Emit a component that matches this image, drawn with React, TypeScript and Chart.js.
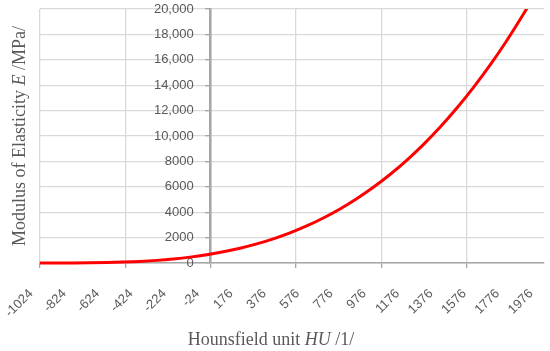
import React, { useEffect, useRef } from 'react';
import { Chart, registerables } from 'chart.js';

Chart.register(...registerables);

// Hounsfield unit sample positions and the modulus values
const huValues = [
  -1024, -924, -824, -724, -624, -524, -424, -324, -224, -124,
  -24, 76, 176, 276, 376, 476, 576, 676, 776, 876,
  976, 1076, 1176, 1276, 1376, 1476, 1576, 1676, 1776, 1876,
  1976,
];
const modulusValues = [
  0, 0, 4, 14, 35, 71, 126, 207, 318, 463,
  649, 880, 1163, 1502, 1905, 2374, 2920, 3545, 4257, 5061,
  5962, 6969, 8087, 9324, 10688, 12180, 13804, 15573, 17500, 19580,
  21830,
];

// Axis tick labels / grid positions
const xLabelValues = [-1024, -824, -624, -424, -224, -24, 176, 376, 576, 776, 976, 1176, 1376, 1576, 1776, 1976];
const xGridValues = [-1024, -512, 0, 512, 1024, 1536];
const xMin = -1024;
const xMax = 2000;
const yMin = 0;
const yMax = 20000;
const yStep = 2000;

const xTitleParts = [
  { text: 'Hounsfield unit ', italic: false },
  { text: 'HU', italic: true },
  { text: ' /1/', italic: false },
];
const yTitleParts = [
  { text: 'Modulus of Elasticity ', italic: false },
  { text: 'E', italic: true },
  { text: ' /MPa/', italic: false },
];

const TEXT_COLOR = '#595959';
const SERIF = '"Liberation Serif", "Times New Roman", serif';
const SANS = '"Liberation Sans", Arial, sans-serif';
const Y_LABEL_GAP = 17;

function drawParts(ctx: CanvasRenderingContext2D, parts: { text: string; italic: boolean }[], cx: number, baseline: number) {
  const fontFor = (it: boolean) => `${it ? 'italic ' : ''}18px ${SERIF}`;
  let total = 0;
  const widths = parts.map((p) => {
    ctx.font = fontFor(p.italic);
    const w = ctx.measureText(p.text).width;
    total += w;
    return w;
  });
  let x = cx - total / 2;
  parts.forEach((p, i) => {
    ctx.font = fontFor(p.italic);
    ctx.fillText(p.text, x, baseline);
    x += widths[i];
  });
}

const titlePlugin = {
  id: 'axisTitles',
  afterDraw(chart: any) {
    const ctx: CanvasRenderingContext2D = chart.ctx;
    const area = chart.chartArea;
    ctx.save();
    ctx.fillStyle = TEXT_COLOR;
    ctx.textAlign = 'left';
    ctx.textBaseline = 'alphabetic';
    drawParts(ctx, xTitleParts, 271, 345);
    ctx.translate(24.5, (area.top + area.bottom) / 2);
    ctx.rotate(-Math.PI / 2);
    drawParts(ctx, yTitleParts, 0, 0);
    ctx.restore();
  },
};

export default function App() {
  const canvasRef = useRef<HTMLCanvasElement | null>(null);

  useEffect(() => {
    if (!canvasRef.current) return;
    const allTicks = Array.from(new Set([...xLabelValues, ...xGridValues])).sort((a, b) => a - b);
    const chart = new Chart(canvasRef.current, {
      type: 'line',
      data: {
        datasets: [
          {
            data: huValues.map((x, i) => ({ x, y: modulusValues[i] })),
            borderColor: '#ff0000',
            borderWidth: 3,
            pointRadius: 0,
            fill: false,
            cubicInterpolationMode: 'monotone',
            clip: { left: 0, top: 0, right: 0, bottom: 4 } as any,
          },
        ],
      },
      options: {
        animation: false,
        responsive: true,
        maintainAspectRatio: false,
        layout: { padding: { top: 9, left: 40, right: 6, bottom: 0 } },
        plugins: {
          legend: { display: false },
          tooltip: { enabled: false },
        },
        scales: {
          x: {
            type: 'linear',
            min: xMin,
            max: xMax,
            afterBuildTicks: (scale: any) => {
              scale.ticks = allTicks.map((v) => ({ value: v }));
            },
            afterFit: (scale: any) => {
              scale.height = 88;
              scale.paddingLeft = 0;
              scale.paddingRight = 0;
            },
            ticks: {
              autoSkip: false,
              minRotation: 45,
              maxRotation: 45,
              padding: 18,
              labelOffset: -9,
              color: TEXT_COLOR,
              font: { family: SANS, size: 13 },
              callback: (value: any) => (xLabelValues.includes(Number(value)) ? String(value) : ''),
            },
            grid: {
              color: (ctx: any) => (xGridValues.includes(ctx.tick?.value) ? '#d9d9d9' : 'rgba(0,0,0,0)'),
              tickColor: (ctx: any) => (xGridValues.includes(ctx.tick?.value) ? '#a6a6a6' : 'rgba(0,0,0,0)'),
              lineWidth: 1.3,
              tickLength: 5,
              drawTicks: true,
            },
            border: { color: '#a6a6a6', width: 1.5 },
          },
          y: {
            type: 'linear',
            position: { x: 0 } as any,
            min: yMin,
            max: yMax,
            afterFit: (scale: any) => {
              scale.width = 0;
              scale.paddingTop = 0;
              scale.paddingBottom = 0;
            },
            afterUpdate: (scale: any) => {
              if (scale.__shiftPatched) return;
              const orig = scale._computeLabelItems.bind(scale);
              scale._computeLabelItems = (ca: any) =>
                orig(ca).map((item: any) => ({
                  ...item,
                  options: {
                    ...item.options,
                    translation: [item.options.translation[0] - Y_LABEL_GAP, item.options.translation[1]],
                  },
                }));
              scale.__shiftPatched = true;
              scale._labelItems = null;
            },
            ticks: {
              stepSize: yStep,
              padding: 13,
              color: TEXT_COLOR,
              font: { family: SANS, size: 13 },
              callback: (value: any) => {
                const v = Number(value);
                return v >= 10000 ? v.toLocaleString('en-US') : String(v);
              },
            },
            grid: {
              color: '#d9d9d9',
              lineWidth: 1.3,
              tickLength: 4,
              tickColor: '#a6a6a6',
            },
            border: { color: '#a6a6a6', width: 2.5 },
          },
        },
      } as any,
      plugins: [titlePlugin],
    });
    return () => chart.destroy();
  }, []);

  return (
    <div style={{ position: 'absolute', left: 0, top: 0, width: 550, height: 351, background: '#ffffff' }}>
      <canvas ref={canvasRef} />
    </div>
  );
}
